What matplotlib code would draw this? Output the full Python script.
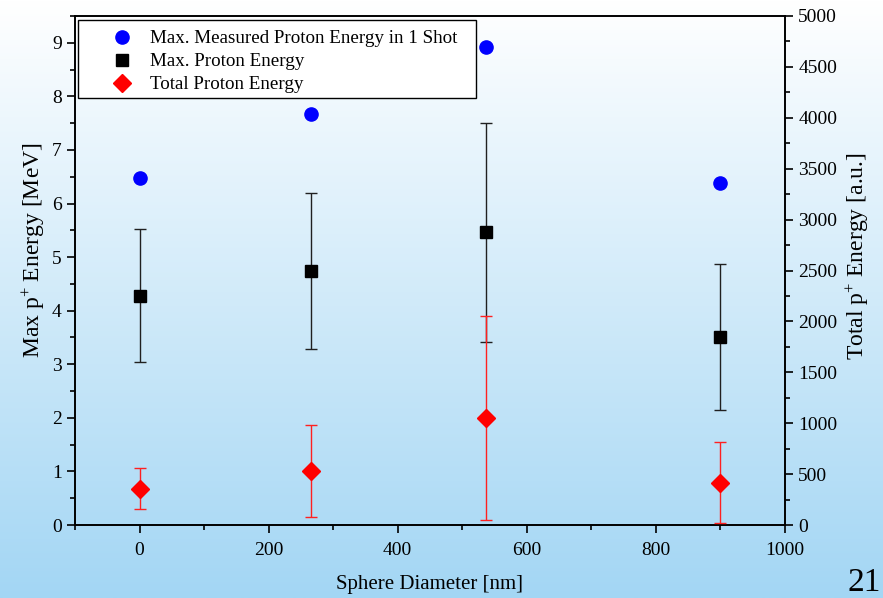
import numpy as np
import matplotlib
matplotlib.use("Agg")
import matplotlib.pyplot as plt
from matplotlib.patches import Rectangle
from matplotlib.ticker import MultipleLocator

plt.rcParams['font.family'] = ['Liberation Serif', 'DejaVu Serif']
plt.rcParams['mathtext.fontset'] = 'custom'
plt.rcParams['mathtext.rm'] = 'Liberation Serif'
plt.rcParams['mathtext.it'] = 'Liberation Serif:italic'

# Sphere diameters [nm]
diameter = [0, 265, 536, 900]

# Max. measured proton energy in a single shot [MeV]
max_single_shot = [6.48, 7.68, 8.93, 6.38]

# Max. proton energy (mean) [MeV] with error range
max_energy = [4.28, 4.75, 5.46, 3.51]
max_energy_lo = [3.04, 3.29, 3.41, 2.15]
max_energy_hi = [5.52, 6.19, 7.50, 4.87]

# Total proton energy [a.u.] with error range
total_energy = [355, 535, 1052, 415]
total_energy_lo = [155, 82, 50, 20]
total_energy_hi = [558, 985, 2052, 815]

W, H = 883, 598
fig = plt.figure(figsize=(W / 100, H / 100), dpi=100)

# slide background: white at the top fading to light blue at the bottom
bg = fig.add_axes([0, 0, 1, 1], zorder=-10)
top = np.array([255, 255, 255]) / 255
bot = np.array([163, 214, 244]) / 255
t = np.linspace(0, 1, 256)[:, None]
grad = (top[None, :] * (1 - t) + bot[None, :] * t)[:, None, :]
bg.imshow(grad, aspect='auto', extent=[0, 1, 0, 1])
bg.set_axis_off()

ax = fig.add_axes([75 / W, 1 - 525 / H, (785 - 75) / W, (525 - 16) / H])
ax.set_facecolor('none')
ax2 = ax.twinx()

lw_axis = 1.2
for a in (ax, ax2):
    for s in a.spines.values():
        s.set_linewidth(lw_axis)

ax.set_xlim(-100, 1000)
ax.set_ylim(0, 9.5)
ax2.set_ylim(0, 5000)

ax.xaxis.set_major_locator(MultipleLocator(200))
ax.xaxis.set_minor_locator(MultipleLocator(100))
ax.yaxis.set_major_locator(MultipleLocator(1))
ax.yaxis.set_minor_locator(MultipleLocator(0.5))
ax2.yaxis.set_major_locator(MultipleLocator(500))
ax2.yaxis.set_minor_locator(MultipleLocator(250))

ax.tick_params(axis='both', which='major', direction='out', length=6, width=1.2,
               labelsize=14)
ax.tick_params(axis='x', which='major', pad=6)
ax.tick_params(axis='both', which='minor', direction='out', length=3.5, width=1.2)
ax.tick_params(axis='x', top=False, which='both')
ax.tick_params(axis='y', right=False, which='both')
ax2.tick_params(axis='y', which='major', direction='out', length=6, width=1.2,
                labelsize=14)
ax2.tick_params(axis='y', which='minor', direction='out', length=3.5, width=1.2)

ax.set_xlabel('Sphere Diameter [nm]', fontsize=15, labelpad=12)
ax.set_ylabel('Max p$^{+}$ Energy [MeV]', fontsize=17)
ax2.set_ylabel('Total p$^{+}$ Energy [a.u.]', fontsize=17)
ax.yaxis.set_label_coords(-28 / 710, 0.540)
ax2.yaxis.set_label_coords(1 + 59 / 710, 0.528)

# max proton energy with error bars
me = np.array(max_energy)
yerr_b = [me - np.array(max_energy_lo), np.array(max_energy_hi) - me]
ax.errorbar(diameter, max_energy, yerr=yerr_b, fmt='none', ecolor='#202020',
            elinewidth=1.0, capsize=4, capthick=1.0, zorder=3)
h_sq, = ax.plot(diameter, max_energy, 's', color='black', markersize=8.5,
                linestyle='none', zorder=4, label='Max. Proton Energy')

# max single-shot energy
h_c, = ax.plot(diameter, max_single_shot, 'o', color='#0000ff', markersize=9.5,
               linestyle='none', zorder=4,
               label='Max. Measured Proton Energy in 1 Shot')

# total proton energy on the right axis
te = np.array(total_energy)
yerr_r = [te - np.array(total_energy_lo), np.array(total_energy_hi) - te]
ax2.errorbar(diameter, total_energy, yerr=yerr_r, fmt='none', ecolor='#ff2020',
             elinewidth=1.0, capsize=4, capthick=1.0, zorder=3)
h_d, = ax2.plot(diameter, total_energy, 'D', color='#ff0000', markersize=9,
                linestyle='none', zorder=4, label='Total Proton Energy')

# legend box
box = Rectangle((78 / W, 1 - 98 / H), (476 - 78) / W, (98 - 20) / H,
                transform=fig.transFigure, facecolor='white', edgecolor='black',
                linewidth=1.0, zorder=20)
ax2.add_artist(box)
leg = ax2.legend(handles=[h_c, h_sq, h_d], loc='upper left',
                 bbox_to_anchor=(101 / W, 1 - 28 / H),
                 bbox_transform=fig.transFigure, frameon=False, fontsize=13.7,
                 handlelength=2.0, handletextpad=0.5, labelspacing=0.3,
                 borderpad=0.1, borderaxespad=0)
leg.set_zorder(30)

fig.text(881 / W, 1 - 598 / H, '21', fontsize=24, ha='right', va='bottom')

fig.savefig('out.png', dpi=100)
